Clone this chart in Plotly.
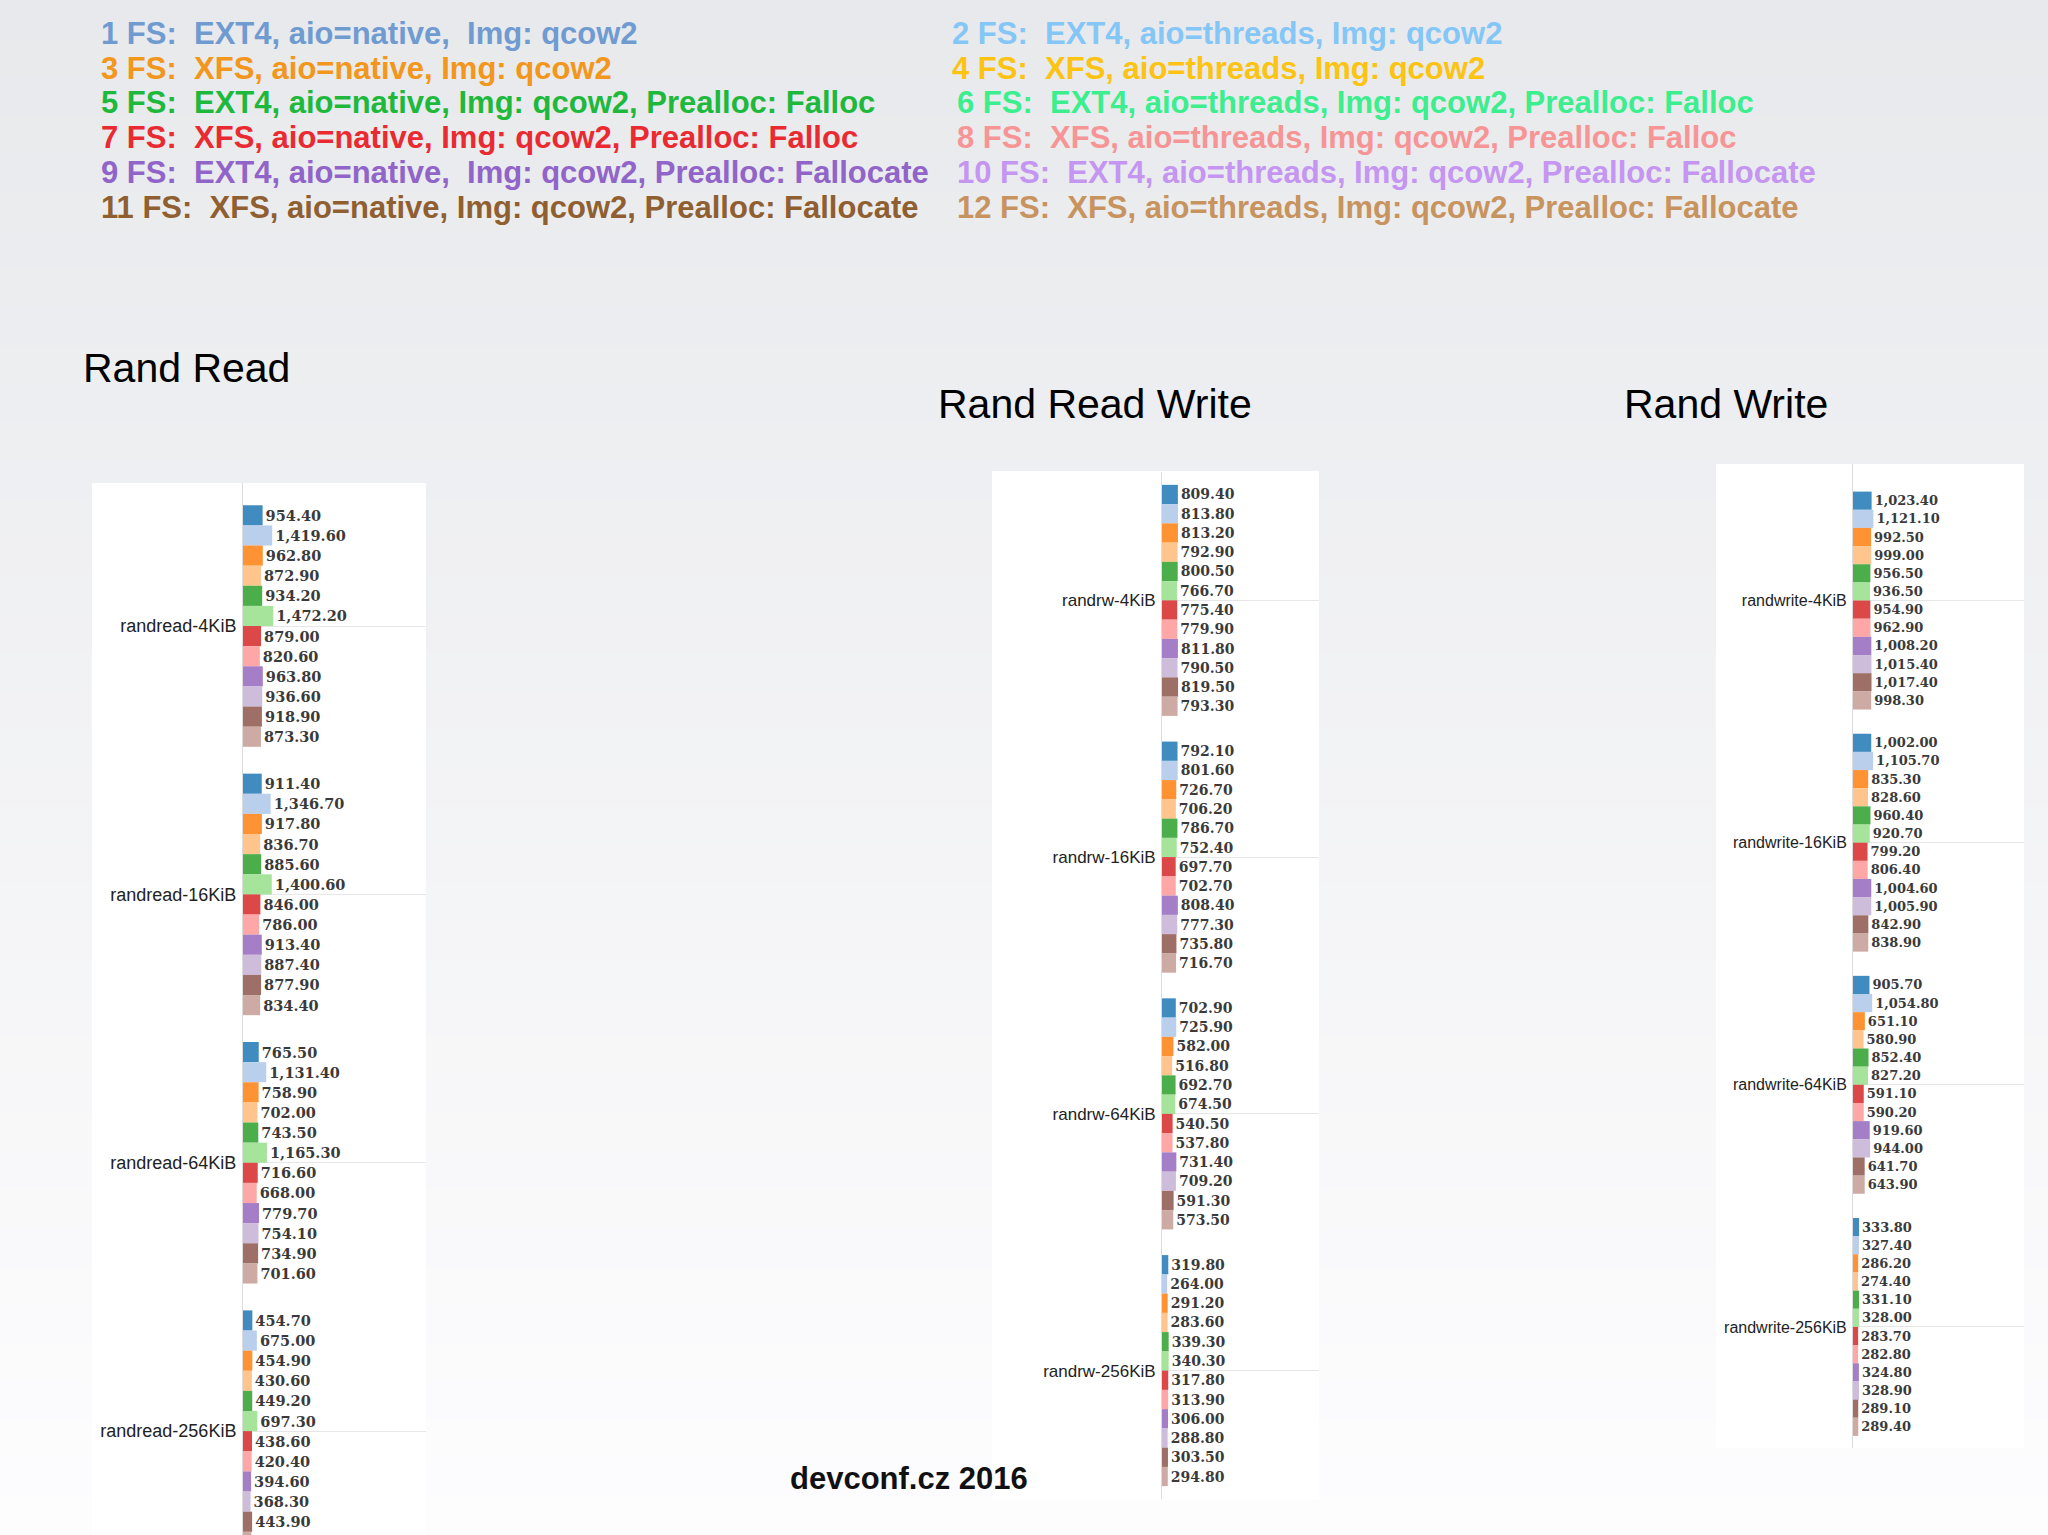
import plotly.graph_objects as go

# Series labels (legend at top of slide) and their text colours
series_labels = [
    "1 FS:  EXT4, aio=native,  Img: qcow2",
    "2 FS:  EXT4, aio=threads, Img: qcow2",
    "3 FS:  XFS, aio=native, Img: qcow2",
    "4 FS:  XFS, aio=threads, Img: qcow2",
    "5 FS:  EXT4, aio=native, Img: qcow2, Prealloc: Falloc",
    "6 FS:  EXT4, aio=threads, Img: qcow2, Prealloc: Falloc",
    "7 FS:  XFS, aio=native, Img: qcow2, Prealloc: Falloc",
    "8 FS:  XFS, aio=threads, Img: qcow2, Prealloc: Falloc",
    "9 FS:  EXT4, aio=native,  Img: qcow2, Prealloc: Fallocate",
    "10 FS:  EXT4, aio=threads, Img: qcow2, Prealloc: Fallocate",
    "11 FS:  XFS, aio=native, Img: qcow2, Prealloc: Fallocate",
    "12 FS:  XFS, aio=threads, Img: qcow2, Prealloc: Fallocate",
]
label_colors = ["#6f9bd0", "#84c6f6", "#f3961c", "#fcc312", "#1eb93c", "#3cee8e",
                "#ea2a31", "#f79596", "#9064c8", "#c495f1", "#8f5f31", "#c7935e"]
bar_colors = ["#1f77b4", "#aec7e8", "#ff7f0e", "#ffbb78", "#2ca02c", "#98df8a",
              "#d62728", "#ff9896", "#9467bd", "#c5b0d5", "#8c564b", "#c49c94"]

# Rand Read
randread_cats = ["randread-4KiB", "randread-16KiB", "randread-64KiB", "randread-256KiB"]
randread_4k = [954.40, 1419.60, 962.80, 872.90, 934.20, 1472.20, 879.00, 820.60, 963.80, 936.60, 918.90, 873.30]
randread_16k = [911.40, 1346.70, 917.80, 836.70, 885.60, 1400.60, 846.00, 786.00, 913.40, 887.40, 877.90, 834.40]
randread_64k = [765.50, 1131.40, 758.90, 702.00, 743.50, 1165.30, 716.60, 668.00, 779.70, 754.10, 734.90, 701.60]
randread_256k = [454.70, 675.00, 454.90, 430.60, 449.20, 697.30, 438.60, 420.40, 394.60, 368.30, 443.90, 405.00]

# Rand Read Write
randrw_cats = ["randrw-4KiB", "randrw-16KiB", "randrw-64KiB", "randrw-256KiB"]
randrw_4k = [809.40, 813.80, 813.20, 792.90, 800.50, 766.70, 775.40, 779.90, 811.80, 790.50, 819.50, 793.30]
randrw_16k = [792.10, 801.60, 726.70, 706.20, 786.70, 752.40, 697.70, 702.70, 808.40, 777.30, 735.80, 716.70]
randrw_64k = [702.90, 725.90, 582.00, 516.80, 692.70, 674.50, 540.50, 537.80, 731.40, 709.20, 591.30, 573.50]
randrw_256k = [319.80, 264.00, 291.20, 283.60, 339.30, 340.30, 317.80, 313.90, 306.00, 288.80, 303.50, 294.80]

# Rand Write
randwrite_cats = ["randwrite-4KiB", "randwrite-16KiB", "randwrite-64KiB", "randwrite-256KiB"]
randwrite_4k = [1023.40, 1121.10, 992.50, 999.00, 956.50, 936.50, 954.90, 962.90, 1008.20, 1015.40, 1017.40, 998.30]
randwrite_16k = [1002.00, 1105.70, 835.30, 828.60, 960.40, 920.70, 799.20, 806.40, 1004.60, 1005.90, 842.90, 838.90]
randwrite_64k = [905.70, 1054.80, 651.10, 580.90, 852.40, 827.20, 591.10, 590.20, 919.60, 944.00, 641.70, 643.90]
randwrite_256k = [333.80, 327.40, 286.20, 274.40, 331.10, 328.00, 283.70, 282.80, 324.80, 328.90, 289.10, 289.40]

W, H = 2048, 1535


def px(x):
    return x / W


def py(y):
    return 1 - y / H


panels = [
    # cats, groups, axis suffix, title, title pos, white box, x domain, y domain, y range, x max,
    # tick font size, value font size
    (randread_cats, [randread_4k, randread_16k, randread_64k, randread_256k], "",
     "Rand Read", (81, 368), (92, 483, 426, 1535), (243, 426), (483, 1535), [3.387, -0.533], 8900, 18, 14.5),
    (randrw_cats, [randrw_4k, randrw_16k, randrw_64k, randrw_256k], "2",
     "Rand Read Write", (936, 404), (992, 471, 1319, 1500), (1162, 1319), (472, 1499), [3.5, -0.5], 8000, 17, 14),
    (randwrite_cats, [randwrite_4k, randwrite_16k, randwrite_64k, randwrite_256k], "3",
     "Rand Write", (1622, 404), (1716, 464, 2024, 1448), (1853, 2024), (464, 1448), [3.5, -0.564], 9400, 16, 13),
]

fig = go.Figure()
shapes = []
annotations = []

# background gradient (light grey at top -> white at bottom)
n_strips = 40
top_c = (232, 233, 236)
bot_c = (253, 253, 254)
for i in range(n_strips):
    t = i / (n_strips - 1)
    c = tuple(int(round(top_c[k] + (bot_c[k] - top_c[k]) * t)) for k in range(3))
    shapes.append(dict(type="rect", xref="paper", yref="paper", layer="below",
                       x0=0, x1=1, y0=py(H * (i + 1) / n_strips + 1), y1=py(H * i / n_strips),
                       fillcolor="rgb(%d,%d,%d)" % c, line=dict(width=0)))

for cats, groups, sfx, title, tpos, box, xd, yd, yr, xmax, tick_size, val_size in panels:
    for s in range(12):
        fig.add_trace(go.Bar(
            orientation="h",
            y=cats,
            x=[g[s] for g in groups],
            name=series_labels[s],
            marker=dict(color=bar_colors[s], opacity=0.85, line=dict(width=0)),
            texttemplate="<b>%{x:,.2f}</b>",
            textposition="outside",
            textfont=dict(family="DejaVu Serif", size=val_size, color="#3a3a3a"),
            constraintext="none",
            cliponaxis=False,
            showlegend=False,
            xaxis="x" + sfx,
            yaxis="y" + sfx,
        ))
    # white panel box
    shapes.append(dict(type="rect", xref="paper", yref="paper", layer="below",
                       x0=px(box[0]), x1=px(box[2]), y0=py(box[3]), y1=py(box[1]),
                       fillcolor="white", line=dict(width=0)))
    annotations.append(dict(text=title, x=px(tpos[0]), y=py(tpos[1]), xref="paper", yref="paper",
                            xanchor="left", yanchor="middle", showarrow=False,
                            font=dict(family="Liberation Sans", size=41, color="#000000")))
    fig.layout["xaxis" + sfx] = dict(domain=[px(xd[0]), px(xd[1])], range=[0, xmax],
                                     anchor="y" + sfx, showgrid=False, zeroline=False,
                                     showticklabels=False, showline=False)
    fig.layout["yaxis" + sfx] = dict(domain=[py(yd[1]), py(yd[0])], range=yr,
                                     anchor="x" + sfx, type="category",
                                     showgrid=True, gridcolor="#e6e6e8", gridwidth=1,
                                     showline=True, linecolor="#dcdcdc", linewidth=1,
                                     ticks="", ticklabelstandoff=2,
                                     tickfont=dict(family="Liberation Sans", size=tick_size, color="#222222"))

# legend text block
legend_x = [99, 950, 99, 950, 99, 955, 99, 955, 99, 955, 99, 955]
legend_y = [33, 33, 69, 69, 103, 103, 138, 138, 172, 172, 207, 207]
for s in range(12):
    annotations.append(dict(text="<b>" + series_labels[s] + "</b>", x=px(legend_x[s]), y=py(legend_y[s]),
                            xref="paper", yref="paper", xanchor="left", yanchor="middle",
                            showarrow=False,
                            font=dict(family="Liberation Sans", size=31, color=label_colors[s])))

annotations.append(dict(text="<b>devconf.cz 2016</b>", x=px(909), y=py(1478), xref="paper", yref="paper",
                        xanchor="center", yanchor="middle", showarrow=False,
                        font=dict(family="Liberation Sans", size=31, color="#111111")))

fig.update_layout(
    width=W, height=H,
    margin=dict(l=0, r=0, t=0, b=0),
    paper_bgcolor="white",
    plot_bgcolor="rgba(0,0,0,0)",
    barmode="group",
    bargap=0.1,
    bargroupgap=0,
    shapes=shapes,
    annotations=annotations,
)

fig.write_html("out.html", config={"displayModeBar": False},
               post_script="document.body.style.margin='0';document.body.style.overflow='hidden';")
